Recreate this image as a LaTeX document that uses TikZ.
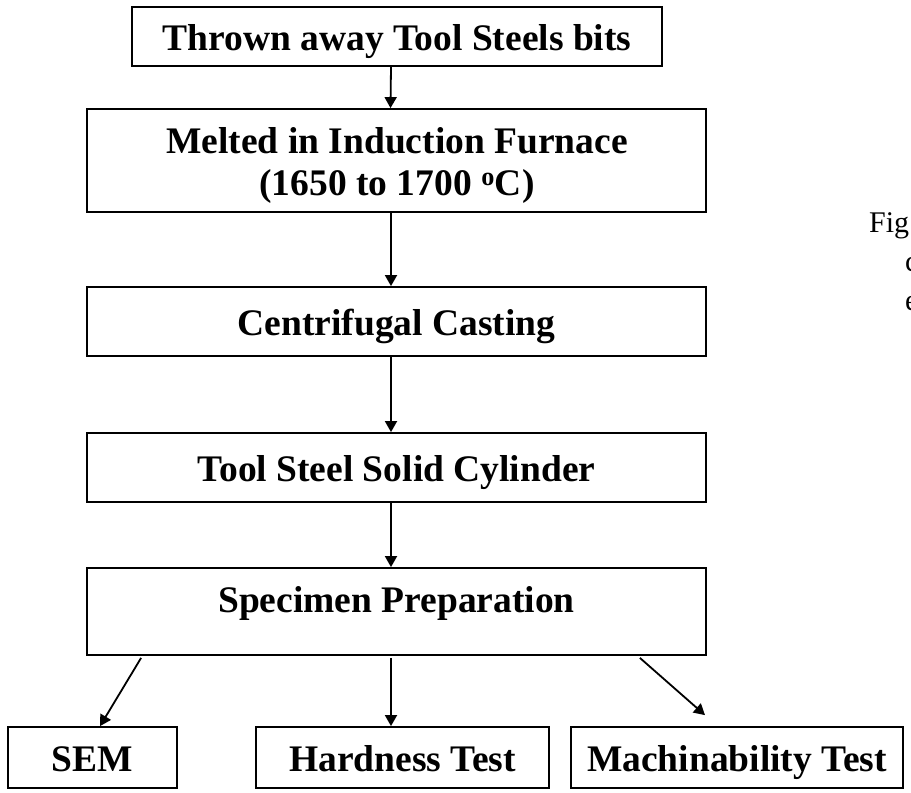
\documentclass[tikz,border=0pt]{standalone}
\usepackage{fontspec}
\setmainfont{Liberation Serif}
\usetikzlibrary{arrows.meta}
\begin{document}
\begin{tikzpicture}[x=1pt,y=-1pt,
  boxtext/.style={font=\fontsize{37.5}{42}\selectfont\bfseries, inner sep=0pt, text height=27pt, text depth=0pt},
  box/.style={draw=black, line width=1.8pt, boxtext},
  linetext/.style={font=\fontsize{37.5}{42}\selectfont\bfseries, inner sep=0pt, anchor=base},
  arr/.style={line width=1.8pt, -{Triangle[length=11pt,width=12pt]}},
  captext/.style={font=\fontsize{30}{34}\selectfont, anchor=base west, inner sep=0pt}]
\useasboundingbox (0,0) rectangle (911,793);
\node[box, minimum width=530pt, minimum height=59pt] (b1) at (397,36.5) {Thrown away Tool Steels bits};
\node[draw=black, line width=1.8pt, inner sep=0pt, minimum width=619pt, minimum height=103pt] (b2) at (396.5,160.5) {};
\node[linetext] (t2a) at (397,153) {Melted in Induction Furnace};
\node[linetext] (t2b) at (397,195) {(1650 to 1700 \textsuperscript{o}C)};
\node[box, minimum width=619pt, minimum height=69pt] (b3) at (396.5,321.5) {Centrifugal Casting};
\node[box, minimum width=619pt, minimum height=69pt] (b4) at (396.5,467.5) {Tool Steel Solid Cylinder};
\node[draw=black, line width=1.8pt, inner sep=0pt, minimum width=619pt, minimum height=87pt] (b5) at (396.5,611.5) {};
\node[linetext] (t5) at (396.5,612) {Specimen Preparation};
\node[box, minimum width=169pt, minimum height=61pt] (sem) at (92.5,757.5) {SEM};
\node[box, minimum width=293pt, minimum height=61pt] (hard) at (402.5,757.5) {Hardness Test};
\node[box, minimum width=332pt, minimum height=61pt] (mach) at (737,757.5) {Machinability Test};
\draw[arr] ([xshift=-6pt]b1.south) -- ([xshift=-6pt]b2.north);
\draw[arr] ([xshift=-5.5pt]b2.south) -- ([xshift=-5.5pt]b3.north);
\draw[arr] ([xshift=-5.5pt]b3.south) -- ([xshift=-5.5pt]b4.north);
\draw[arr] ([xshift=-5.5pt]b4.south) -- ([xshift=-5.5pt]b5.north);
\draw[arr] ([xshift=55pt,yshift=-2pt]b5.south west) -- ([xshift=7.5pt]sem.north);
\draw[arr] ([xshift=-5.5pt,yshift=-2pt]b5.south) -- ([xshift=-11.5pt]hard.north);
\draw[arr] ([xshift=-67pt,yshift=-2pt]b5.south east) -- ([shift={(-32pt,11pt)}]mach.north);
\node[captext] (c1) at (869,232) {Fig};
\node[captext] (c2) at (905,271) {c};
\node[captext] (c3) at (905,310) {e};
\end{tikzpicture}
\end{document}
